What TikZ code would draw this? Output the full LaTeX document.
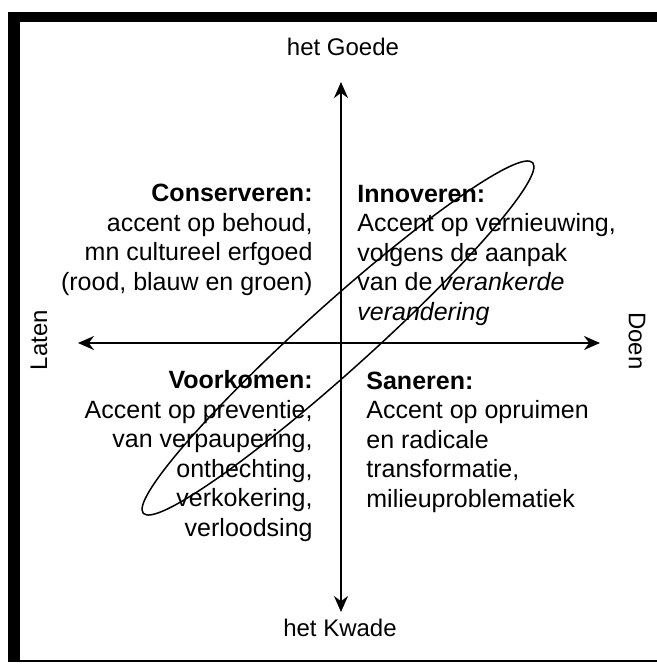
\documentclass[tikz,border=0pt]{standalone}
\usepackage{fontspec}
\setmainfont{Liberation Sans}
\usetikzlibrary{arrows.meta}

\begin{document}
\begin{tikzpicture}[x=0.5pt, y=-0.5pt,
    axis/.style={{Stealth[length=8pt, width=7pt]}-{Stealth[length=8pt, width=7pt]}, line width=1pt},
    pole/.style={font=\fontsize{12}{14}\selectfont, inner sep=0pt},
    quad/.style={font=\fontsize{12.5}{14.75}\selectfont, inner sep=0pt}
  ]
  \useasboundingbox (0,0) rectangle (657,665);
  % frame (thick on the left and top)
  \fill (8,12) rectangle (20,662);
  \fill (8,12) rectangle (657,22);
  \fill (8,660) rectangle (657,662);

  % ends of the two axes
  \coordinate (up)    at (341,82);
  \coordinate (down)  at (341,612);
  \coordinate (left)  at (78,343);
  \coordinate (right) at (600,343);
  \coordinate (mid)   at (338,338);

  \node[pole] (goede) at (343,47)  {het Goede};
  \node[pole] (kwade) at (340,628) {het Kwade};
  \node[pole, rotate=90]  (laten) at (39,340)  {Laten};
  \node[pole, rotate=-90] (doen)  at (637,341) {Doen};

  \draw[axis] (down) -- (up);
  \draw[axis] (left) -- (right);

  % base = baseline of the last line
  \node[quad, align=right, anchor=base east] (cons) at (313,290)
       {\textbf{Conserveren:}\\accent op behoud,\\mn cultureel erfgoed\\(rood, blauw en groen)};
  \node[quad, align=left, anchor=base west] (innov) at (357,320)
       {\textbf{Innoveren:}\\Accent op vernieuwing,\\volgens de aanpak\\van de \textit{verankerde}\\\textit{verandering}};
  \node[quad, align=right, anchor=base east] (voork) at (313,536)
       {\textbf{Voorkomen:}\\Accent op preventie,\\van verpaupering,\\onthechting,\\verkokering,\\verloodsing};
  \node[quad, align=left, anchor=base west] (saner) at (366,507)
       {\textbf{Saneren:}\\Accent op opruimen\\en radicale\\transformatie,\\milieuproblematiek};

  % the band across the quadrants
  \draw[line width=0.75pt, rotate around={42:(mid)}] (mid) ellipse [x radius=262, y radius=33];
\end{tikzpicture}
\end{document}
